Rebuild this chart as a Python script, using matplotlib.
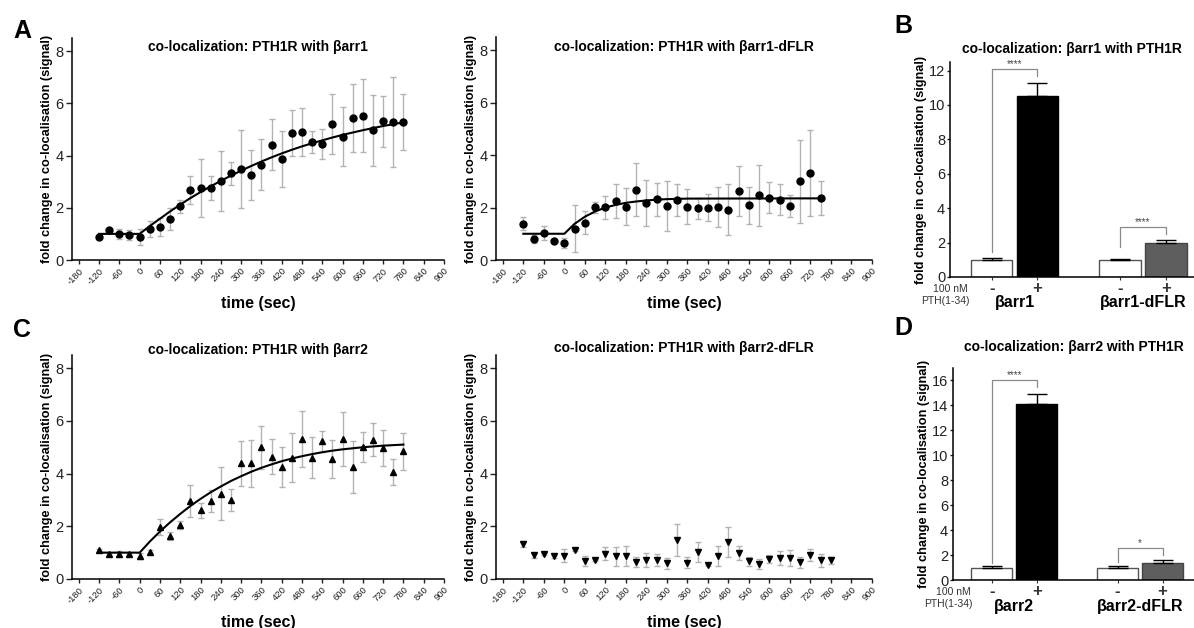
import numpy as np
import matplotlib.pyplot as plt
from matplotlib import transforms

plt.rcParams['font.family'] = ['Liberation Sans', 'DejaVu Sans']

# time points (sec)
time_s = [-120, -90, -60, -30, 0, 30, 60, 90, 120, 150, 180, 210, 240, 270, 300,
          330, 360, 390, 420, 450, 480, 510, 540, 570, 600, 630, 660, 690, 720, 750, 780]

# A: PTH1R with barr1
arr1_mean = [0.87, 1.15, 0.99, 0.96, 0.88, 1.18, 1.25, 1.56, 2.05, 2.69, 2.75, 2.75, 3.03, 3.32, 3.47,
             3.24, 3.65, 4.42, 3.87, 4.85, 4.90, 4.52, 4.44, 5.22, 4.71, 5.43, 5.53, 4.96, 5.31, 5.28, 5.28]
arr1_sem = [0.05, 0.05, 0.19, 0.18, 0.29, 0.30, 0.34, 0.42, 0.26, 0.54, 1.12, 0.45, 1.15, 0.43, 1.49,
            0.96, 0.97, 0.99, 1.08, 0.88, 0.91, 0.43, 0.56, 1.15, 1.13, 1.29, 1.40, 1.36, 0.97, 1.72, 1.06]
arr1_fit_t = [-120, 0, 30, 60, 90, 120, 150, 180, 210, 240, 270, 300, 330, 360, 390, 420, 450,
              480, 510, 540, 570, 600, 630, 660, 690, 720, 750, 780]
arr1_fit_y = [1.0, 1.0, 1.3, 1.58, 1.86, 2.12, 2.37, 2.6, 2.82, 3.03, 3.23, 3.42, 3.6, 3.77, 3.93, 4.08,
              4.22, 4.35, 4.47, 4.58, 4.69, 4.79, 4.88, 4.97, 5.05, 5.13, 5.2, 5.27]

# A: PTH1R with barr1-dFLR (last point at 750 s)
arr1d_mean = [1.39, 0.80, 1.04, 0.73, 0.66, 1.20, 1.42, 2.01, 2.01, 2.25, 2.03, 2.68, 2.18, 2.32, 2.06,
              2.29, 2.03, 1.97, 2.00, 2.03, 1.92, 2.63, 2.08, 2.46, 2.38, 2.30, 2.04, 3.00, 3.32, 2.38]
arr1d_sem = [0.25, 0.15, 0.26, 0.05, 0.19, 0.90, 0.44, 0.20, 0.44, 0.66, 0.70, 1.01, 0.87, 0.63, 0.96,
             0.60, 0.66, 0.41, 0.52, 0.77, 0.96, 0.94, 0.70, 1.15, 0.60, 0.59, 0.42, 1.58, 1.64, 0.65]
arr1d_fit_t = [-120, 0, 30, 60, 90, 120, 150, 180, 210, 240, 270, 300, 330, 360, 750]
arr1d_fit_y = [1.0, 1.0, 1.38, 1.65, 1.85, 2.0, 2.1, 2.18, 2.23, 2.27, 2.3, 2.32, 2.33, 2.34, 2.35]

# C: PTH1R with barr2
arr2_mean = [1.09, 0.95, 0.95, 0.95, 0.88, 1.04, 1.96, 1.63, 2.04, 2.95, 2.60, 2.96, 3.24, 3.01, 4.39,
             4.39, 5.00, 4.64, 4.25, 4.61, 5.31, 4.61, 5.22, 4.56, 5.31, 4.25, 5.00, 5.28, 4.96, 4.05, 4.84]
arr2_sem = [0.06, 0.04, 0.12, 0.04, 0.11, 0.05, 0.30, 0.16, 0.16, 0.60, 0.28, 0.41, 1.01, 0.42, 0.85,
            0.90, 0.82, 0.66, 0.77, 0.92, 1.07, 0.78, 0.41, 0.72, 1.02, 0.98, 0.56, 0.63, 0.68, 0.49, 0.71]
arr2_fit_t = arr1_fit_t
arr2_fit_y = [1.0, 1.0, 1.42, 1.8, 2.15, 2.47, 2.77, 3.04, 3.29, 3.51, 3.72, 3.9, 4.07, 4.22, 4.35, 4.47,
              4.57, 4.66, 4.74, 4.81, 4.87, 4.92, 4.96, 5.0, 5.03, 5.06, 5.08, 5.1]

# C: PTH1R with barr2-dFLR
arr2d_mean = [1.33, 0.90, 0.95, 0.86, 0.88, 1.10, 0.68, 0.71, 0.96, 0.86, 0.88, 0.64, 0.72, 0.72, 0.59,
              1.49, 0.61, 1.02, 0.54, 0.88, 1.40, 0.99, 0.67, 0.58, 0.76, 0.80, 0.80, 0.63, 0.90, 0.71, 0.71]
arr2d_sem = [0.12, 0.10, 0.05, 0.05, 0.25, 0.05, 0.19, 0.04, 0.25, 0.36, 0.38, 0.20, 0.27, 0.23, 0.20,
             0.61, 0.21, 0.38, 0.04, 0.39, 0.58, 0.28, 0.16, 0.19, 0.15, 0.27, 0.30, 0.22, 0.22, 0.25, 0.14]

# B / D bar charts
bar_ticks = ['-', '+', '-', '+']
b_groups = ['\u03b2arr1', '\u03b2arr1-dFLR']
b_mean = [1.0, 10.55, 1.0, 1.95]
b_err = [0.08, 0.75, 0.07, 0.23]
d_groups = ['\u03b2arr2', '\u03b2arr2-dFLR']
d_mean = [1.0, 14.1, 1.0, 1.4]
d_err = [0.15, 0.85, 0.15, 0.2]
bar_colors = ['white', 'black', 'white', '#5e5e5e']

W, H = 1194, 628
fig = plt.figure(figsize=(W / 100, H / 100), dpi=100)


def px_axes(x0, y0, x1, y1):
    return fig.add_axes([x0 / W, 1 - y1 / H, (x1 - x0) / W, (y1 - y0) / H])


def style(ax, pad=2, labelpad=2, length=4):
    for s in ['top', 'right']:
        ax.spines[s].set_visible(False)
    for s in ['left', 'bottom']:
        ax.spines[s].set_linewidth(1.1)
    ax.tick_params(axis='y', labelsize=10.5, length=length, width=1, pad=pad, colors='#222222')
    ax.set_ylabel('fold change in co-localisation (signal)', fontsize=9.2, fontweight='bold', labelpad=labelpad)


def timecourse(ax, y, err, marker, title, title_y, fit_t=None, fit_y=None):
    t = time_s[:len(y)]
    ax.errorbar(t, y, yerr=err, fmt='none', ecolor='#b3b3b3', elinewidth=1, capsize=2.5, capthick=1, zorder=1)
    if fit_t is not None:
        ax.plot(fit_t, fit_y, color='black', lw=1.5, zorder=2)
    ax.plot(t, y, ls='none', marker=marker, color='black', ms=5 if marker == 'o' else 4.6, zorder=3)
    ax.set_xlim(-200, 900)
    ax.set_ylim(0, 8.5)
    ticks = list(range(-180, 901, 60))
    ax.set_xticks(ticks)
    ax.set_xticklabels([str(v) for v in ticks], rotation=45, ha='right', rotation_mode='anchor', fontsize=6.8)
    ax.tick_params(axis='x', length=3, width=1, pad=1.5, colors='#222222')
    ax.set_yticks([0, 2, 4, 6, 8])
    style(ax)
    ax.set_xlabel('time (sec)', fontsize=11.5, fontweight='bold', labelpad=7)
    ax.text(0.5, title_y, title, transform=ax.transAxes, ha='center', va='center', fontsize=10, fontweight='bold')


def bars(ax, means, errs, groups, title, title_y, ylim, yticks, xlim, brackets):
    pos = [0, 1.1, 3.08, 4.18]
    ax.bar(pos, means, width=1.0, color=bar_colors, edgecolor=['#555555', 'black', '#555555', '#444444'],
           linewidth=1.0, zorder=2)
    ax.errorbar(pos, means, yerr=[np.zeros(len(errs)), errs], fmt='none', ecolor='black', elinewidth=1,
                capsize=7, capthick=1, zorder=3)
    ax.set_xlim(*xlim)
    ax.set_ylim(*ylim)
    ax.set_yticks(yticks)
    ax.set_xticks(pos)
    ax.set_xticklabels(bar_ticks, fontsize=12, fontweight='bold')
    ax.tick_params(axis='x', length=2, width=0.8, pad=1, colors='#333333')
    style(ax, pad=1.5, labelpad=1, length=2)
    tr = transforms.blended_transform_factory(ax.transData, ax.transAxes)
    off = 26 / ax.bbox.height
    for gx, g in zip([0.55, 3.63], groups):
        ax.text(gx, -off, g, transform=tr, ha='center', va='center', fontsize=11.5, fontweight='bold')
    ax.text(0.0, -12 / ax.bbox.height, '100 nM', transform=ax.transAxes, ha='center', va='center',
            fontsize=7.5, color='#333333')
    ax.text(-0.02, -24 / ax.bbox.height, 'PTH(1-34)', transform=ax.transAxes, ha='center', va='center',
            fontsize=7.5, color='#333333')
    for (xa, xb, ya, yb, top, star) in brackets:
        ax.plot([pos[xa], pos[xa], pos[xb], pos[xb]], [ya, top, top, yb], color='#8a8a8a', lw=0.9, zorder=1)
        ax.text((pos[xa] + pos[xb]) / 2, top, star, ha='center', va='bottom', fontsize=7, color='#444444')
    ax.text(0.5, title_y, title, transform=ax.transAxes, ha='center', va='center', fontsize=10, fontweight='bold')


axA1 = px_axes(72, 38, 444, 260)
timecourse(axA1, arr1_mean, arr1_sem, 'o', 'co-localization: PTH1R with \u03b2arr1', 0.959, arr1_fit_t, arr1_fit_y)
axA2 = px_axes(496, 37, 872, 260)
timecourse(axA2, arr1d_mean, arr1d_sem, 'o', 'co-localization: PTH1R with \u03b2arr1-dFLR', 0.955,
           arr1d_fit_t, arr1d_fit_y)
axC1 = px_axes(72, 355, 444, 579)
timecourse(axC1, arr2_mean, arr2_sem, '^', 'co-localization: PTH1R with \u03b2arr2', 1.022, arr2_fit_t, arr2_fit_y)
axC2 = px_axes(496, 355, 872, 579)
timecourse(axC2, arr2d_mean, arr2d_sem, 'v', 'co-localization: PTH1R with \u03b2arr2-dFLR', 1.03)

axB = px_axes(950, 62, 1194, 277)
bars(axB, b_mean, b_err, b_groups, 'co-localization: \u03b2arr1 with PTH1R', 1.062, (0, 12.5), [0, 2, 4, 6, 8, 10, 12],
     (-1.0, 4.86), [(0, 1, 1.45, 11.7, 12.1, '****'), (2, 3, 1.75, 2.5, 2.9, '****')])
axD = px_axes(953, 368, 1194, 580)
bars(axD, d_mean, d_err, d_groups, 'co-localization: \u03b2arr2 with PTH1R', 1.10, (0, 17),
     [0, 2, 4, 6, 8, 10, 12, 14, 16], (-0.95, 4.95),
     [(0, 1, 1.35, 15.5, 16.0, '****'), (2, 3, 1.45, 2.0, 2.55, '*')])

for letter, x, y in [('A', 22, 31), ('B', 903, 26), ('C', 22, 330), ('D', 903, 328)]:
    fig.text(x / W, 1 - y / H, letter, ha='center', va='center', fontsize=18, fontweight='bold')

fig.savefig('out.png', dpi=100)
